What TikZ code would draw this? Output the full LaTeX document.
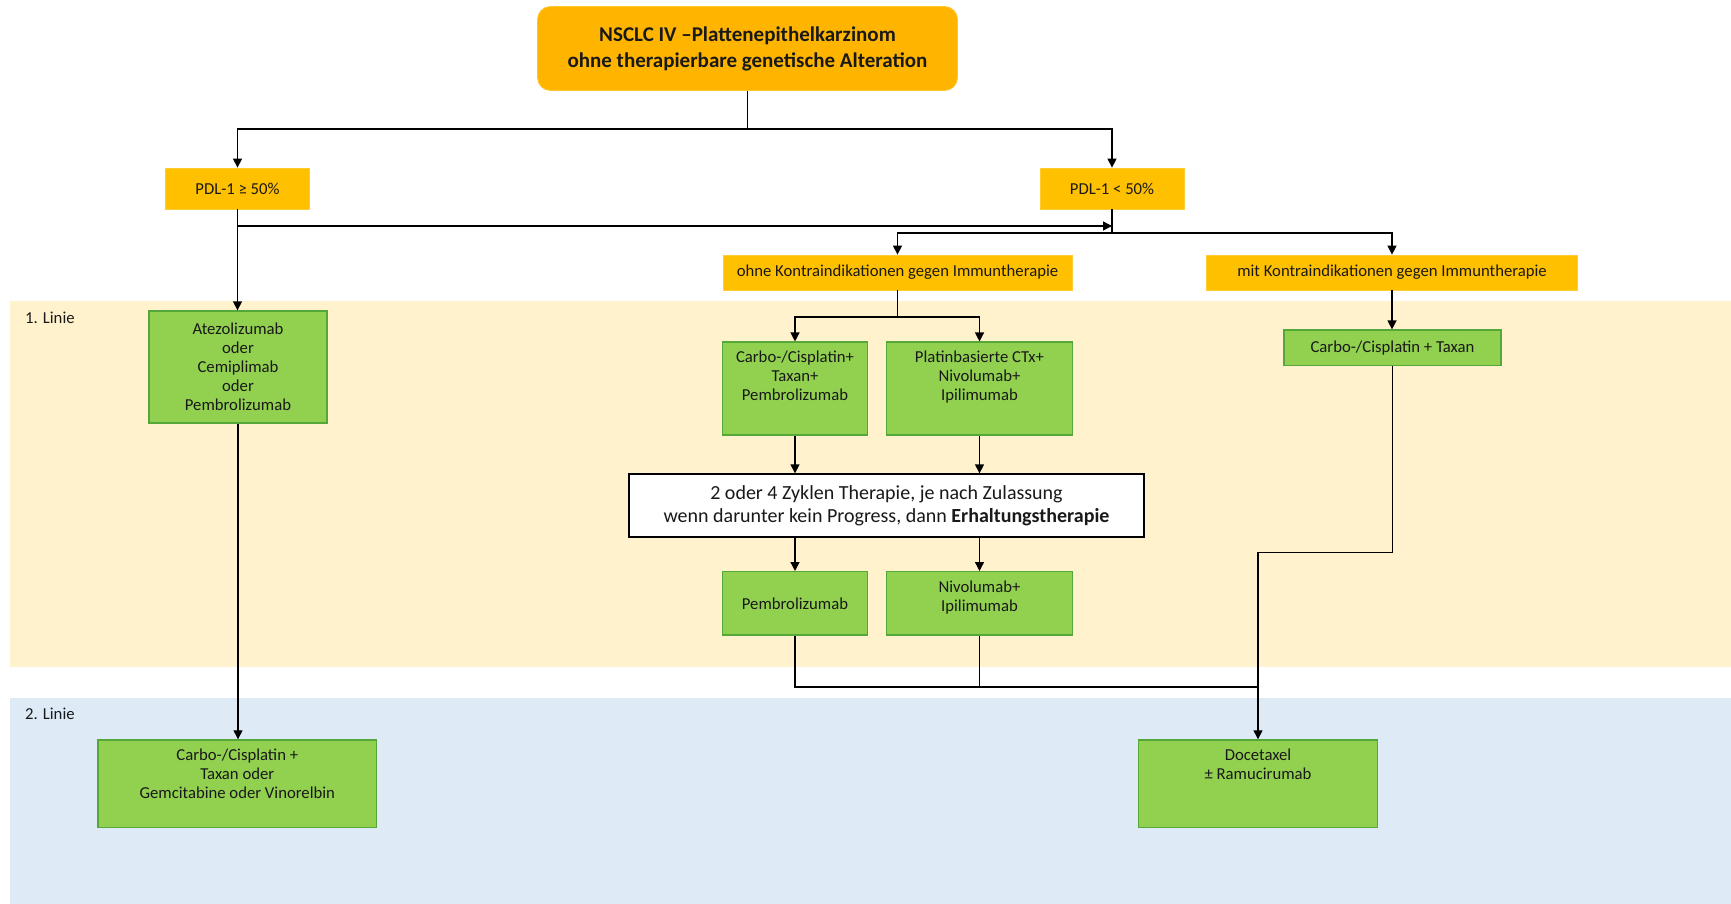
\documentclass[tikz,border=0pt]{standalone}
\usepackage{fontspec}
\setmainfont{Carlito}
\usetikzlibrary{arrows.meta}
\definecolor{orangeT}{RGB}{255,181,0}
\definecolor{orangeP}{RGB}{255,192,0}
\definecolor{greenF}{RGB}{146,208,80}
\definecolor{greenD}{RGB}{84,168,58}
\definecolor{bandY}{RGB}{255,242,204}
\definecolor{bandB}{RGB}{222,235,247}
\definecolor{txt}{RGB}{25,25,25}
\begin{document}
\begin{tikzpicture}[x=1pt,y=-1pt,
  every node/.style={text=txt},
  small/.style={font=\fontsize{16.7}{19}\selectfont},
  obox/.style={fill=orangeP, draw=orangeP!80!white, line width=0.8pt, inner sep=0pt, small, align=center},
  gbox/.style={fill=greenF, draw=greenD, line width=1.3pt, inner sep=0pt, small, align=center},
  gtext/.style={small, align=center, inner sep=0pt, anchor=north},
  conn/.style={draw=black, line width=1.3pt},
  arr/.style={conn, -{Triangle[width=9pt,length=9pt]}},
]
\useasboundingbox (0,0) rectangle (1731,904);
% bands
\fill[bandY] (10,301) rectangle (1731,667);
\fill[bandB] (10,697.5) rectangle (1731,904);
\node[small, anchor=west, inner sep=0pt] (lin1) at (25,318) {1. Linie};
\node[small, anchor=west, inner sep=0pt] (lin2) at (25,714) {2. Linie};

% top
\node[fill=orangeT, draw=orangeT!80!white, line width=0.8pt, rounded corners=13pt, minimum width=420pt, minimum height=84pt, align=center, font=\bfseries\fontsize{21}{26}\selectfont] (top) at (747.5,48.5) {NSCLC IV --Plattenepithelkarzinom\\ohne therapierbare genetische Alteration};

% PDL
\node[obox, minimum width=144pt, minimum height=41pt] (pdlA) at (237.5,188.5) {PDL-1 ≥ 50\%};
\node[obox, minimum width=144pt, minimum height=41pt] (pdlB) at (1112,188.5) {PDL-1 < 50\%};
\node[obox, minimum width=349pt, minimum height=35pt] (ohne) at (897.5,272.5) {ohne Kontraindikationen gegen Immuntherapie};
\node[obox, minimum width=371pt, minimum height=35pt] (mit) at (1392,272.5) {mit Kontraindikationen gegen Immuntherapie};

% first line green
\node[gbox, minimum width=178pt, minimum height=112pt] (atezo) at (238,367) {Atezolizumab\\oder\\Cemiplimab\\oder\\Pembrolizumab};
\node[gbox, minimum width=145pt, minimum height=93pt] (carboA) at (795,388.6) {};
\node[gtext] (carboAt) at ([yshift=-9pt]carboA.north) {Carbo-/Cisplatin+\\Taxan+\\Pembrolizumab};
\node[gbox, minimum width=185.6pt, minimum height=93pt] (platin) at (979.5,388.6) {};
\node[gtext] (platint) at ([yshift=-9pt]platin.north) {Platinbasierte CTx+\\Nivolumab+\\Ipilimumab};
\node[gbox, minimum width=217pt, minimum height=35.3pt] (carboR) at (1392.5,347.7) {Carbo-/Cisplatin + Taxan};

\node[fill=white, draw=black, line width=1.3pt, minimum width=515pt, minimum height=63pt, align=center, font=\fontsize{20}{23}\selectfont] (ther) at (886.5,505.5) {2 oder 4 Zyklen Therapie, je nach Zulassung\\wenn darunter kein Progress, dann \textbf{Erhaltungstherapie}};

\node[gbox, minimum width=145pt, minimum height=63.3pt] (pembro) at (795,603.3) {Pembrolizumab};
\node[gbox, minimum width=185.6pt, minimum height=63.3pt] (nivo) at (979.5,603.3) {};
\node[gtext] (nivot) at ([yshift=-10pt]nivo.north) {Nivolumab+\\Ipilimumab};

% second line
\node[gbox, minimum width=278.6pt, minimum height=87.5pt] (carboL) at (237.3,783.7) {};
\node[gtext] (carboLt) at ([yshift=-9pt]carboL.north) {Carbo-/Cisplatin +\\Taxan oder\\Gemcitabine oder Vinorelbin};
\node[gbox, minimum width=239.4pt, minimum height=87.7pt] (doce) at (1258,783.8) {};
\node[gtext] (docet) at ([yshift=-9pt]doce.north) {Docetaxel\\± Ramucirumab};

% connectors
\coordinate (j1) at (747.5,129);
\draw[conn] (top.south) -- (j1);
\draw[arr] (j1) -| (pdlA.north);
\draw[arr] (j1) -| (pdlB.north);

\draw[arr] (pdlA.south) -- (pdlA.south |- atezo.north);
\coordinate (jA) at (237.5,226);
\coordinate (jB) at (1112,226);
\draw[arr] (jA) -- (jB);

\coordinate (j2) at (1112,233);
\draw[conn] (pdlB.south) -- (j2);
\draw[arr] (j2) -| (ohne.north);
\draw[arr] (j2) -| (mit.north);

\coordinate (j3) at (897.5,317);
\draw[conn] (ohne.south) -- (j3);
\draw[arr] (j3) -| (carboA.north);
\draw[arr] (j3) -| (platin.north);

\draw[arr] (carboA.south) -- (carboA.south |- ther.north);
\draw[arr] (platin.south) -- (platin.south |- ther.north);
\draw[arr] (carboA.south |- ther.south) -- (pembro.north);
\draw[arr] (platin.south |- ther.south) -- (nivo.north);

\draw[arr] (mit.south) -- (mit.south |- carboR.north);
\coordinate (j4) at (1392.5,552.3);
\coordinate (j5) at (1258,552.3);
\draw[arr] (carboR.south) -- (j4) -- (j5) -- (doce.north);

\coordinate (j6) at (795,687);
\coordinate (j7) at (1258,687);
\draw[conn] (pembro.south) -- (j6) -- (j7);
\draw[conn] (nivo.south) -- (nivo.south |- j6);

\draw[arr] (atezo.south) -- (atezo.south |- carboL.north);
\end{tikzpicture}
\end{document}
